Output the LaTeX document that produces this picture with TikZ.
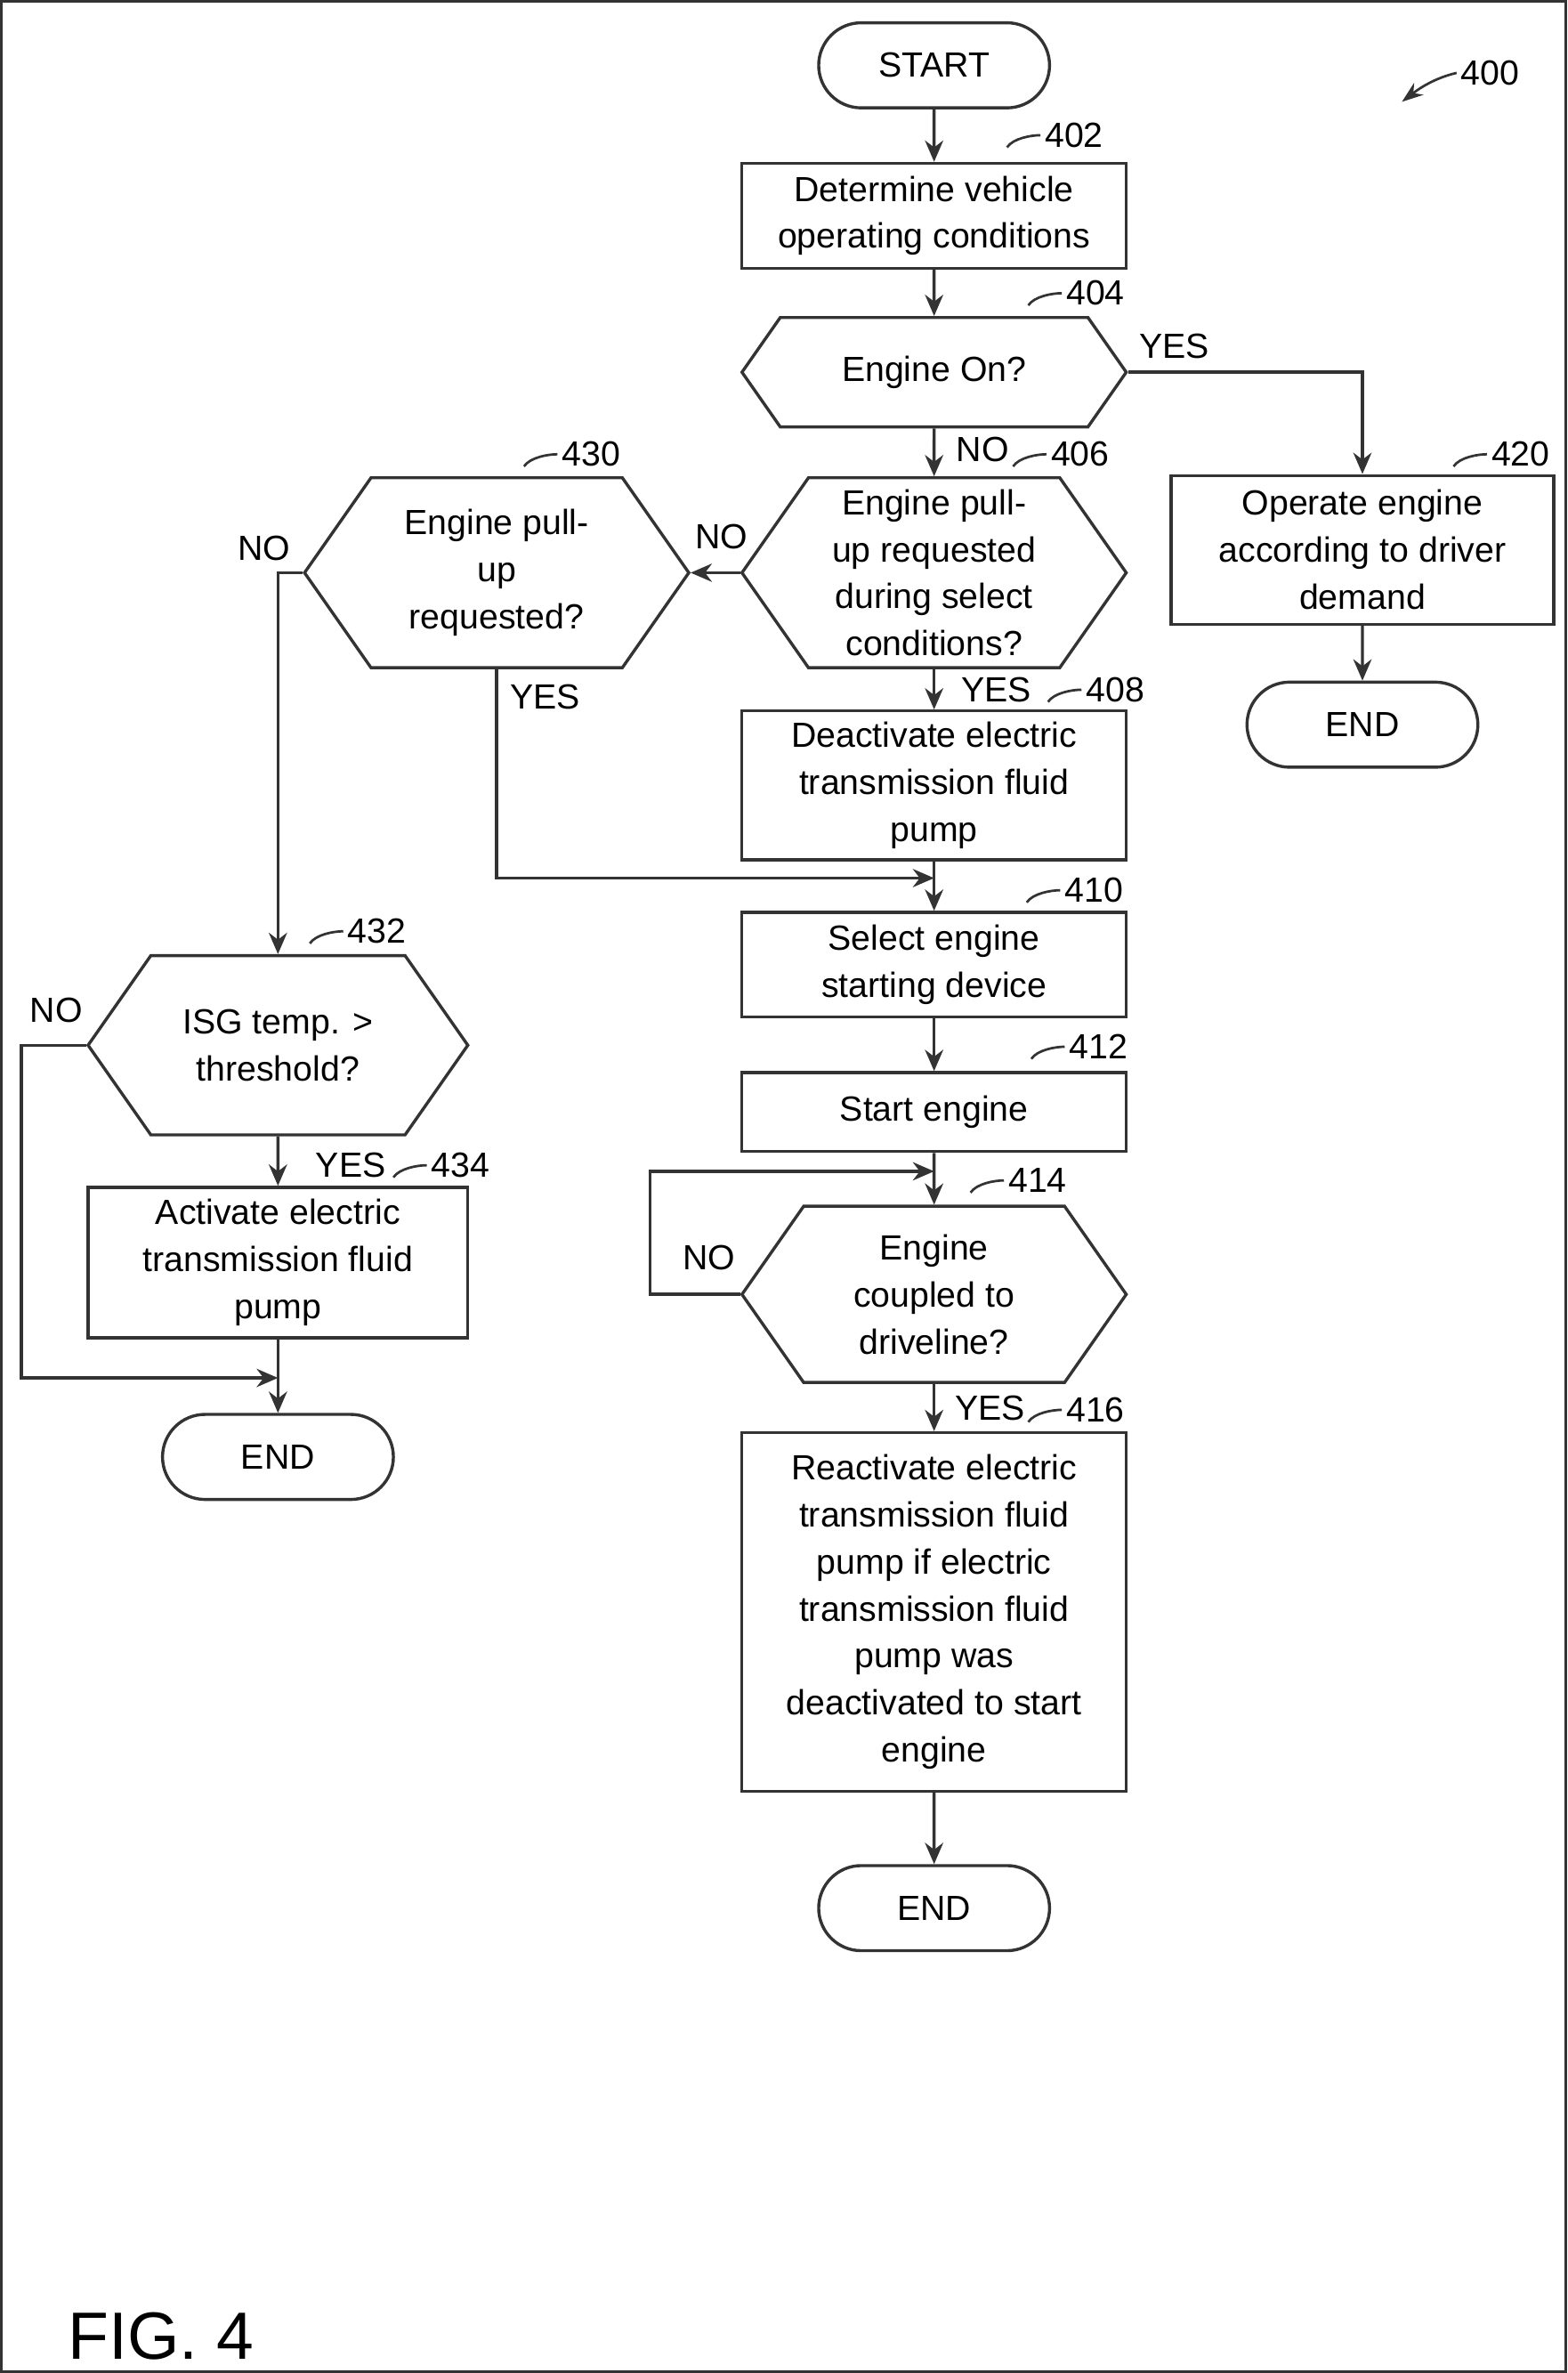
\documentclass[tikz,border=0pt]{standalone}
\usepackage{fontspec}
\setmainfont{Liberation Sans}
\usetikzlibrary{shapes.symbols,shapes.misc,arrows.meta}

\begin{document}
\begin{tikzpicture}[x=0.5pt,y=-0.5pt,
  font=\fontsize{11.5}{15.5}\selectfont,
  every path/.style={line width=1pt,draw=black!80},
  box/.style={draw,rectangle,align=center,inner sep=1pt,minimum width=126.5pt},
  term/.style={draw,rounded rectangle,minimum width=78pt,minimum height=28pt,inner sep=1pt},
  decision/.style={draw,signal,signal to=west and east,signal pointer angle=110,align=center,inner sep=1pt,minimum width=126.5pt},
  flow/.style={-{Stealth[length=7pt,width=6pt]}},
  tag/.style={inner sep=1pt,anchor=west},
  squig/.style={line width=0.8pt}]
\useasboundingbox (0,0) rectangle (1030,1560);

% Terminals and boxes
\node[term] (start) at (614,42) {START};
\node[box,minimum height=34.5pt] (b402) at (614,141) {Determine vehicle\\operating conditions};
\node[decision,minimum height=36pt] (d404) at (614,244) {Engine On?};
\node[box,minimum width=126pt,minimum height=49pt] (b420) at (896,361) {Operate engine\\according to driver\\demand};
\node[term] (end1) at (896,476) {END};
\node[decision,minimum height=62.5pt] (d406) at (614,376) {Engine pull-\\up requested\\during select\\conditions?};
\node[decision,minimum height=62.5pt] (d430) at (326,376) {Engine pull-\\up\\requested?};
\node[box,minimum height=49pt] (b408) at (614,516) {Deactivate electric\\transmission fluid\\pump};
\node[box,minimum height=34.5pt] (b410) at (614,634) {Select engine\\starting device};
\node[box,minimum height=26pt] (b412) at (614,731) {Start engine};
\node[decision,minimum height=58pt] (d414) at (614,851) {Engine\\coupled to\\driveline?};
\node[box,minimum height=118pt] (b416) at (614,1060) {Reactivate electric\\transmission fluid\\pump if electric\\transmission fluid\\pump was\\deactivated to start\\engine};
\node[term] (end2) at (614,1255) {END};
\node[decision,minimum width=125pt,minimum height=59pt] (d432) at (182,687) {ISG temp. >\\threshold?};
\node[box,minimum width=125pt,minimum height=49.5pt] (b434) at (182,830) {Activate electric\\transmission fluid\\pump};
\node[term] (end3) at (182,958) {END};

% Bend points
\coordinate (j430) at (326,577);
\coordinate (j410) at (614,577);
\coordinate (l414) at (427,851);
\coordinate (u414) at (427,770);
\coordinate (t414) at (614,770);
\coordinate (k430) at (182,376);
\coordinate (k432) at (13,687);
\coordinate (m432) at (13,906);
\coordinate (e3) at (182,906);

% Connectors
\draw[flow] (start) -- (b402);
\draw[flow] (b402) -- (d404);
\draw[flow] (d404.east) -| (b420.north);
\draw[flow] (b420) -- (end1);
\draw[flow] (d404) -- (d406);
\draw[flow] (d406.west) -- (d430.east);
\draw[flow] (d406) -- (b408);
\draw[flow] (b408) -- (b410);
\draw[flow] (d430.south) -- (j430) -- (j410);
\draw[flow] (b410) -- (b412);
\draw[flow] (b412) -- (d414);
\draw[flow] (d414.west) -- (l414) -- (u414) -- (t414);
\draw[flow] (d414) -- (b416);
\draw[flow] (b416) -- (end2);
\draw[flow] (d430.west) -- (k430) -- (d432.north);
\draw[flow] (d432) -- (b434);
\draw[flow] (b434) -- (end3);
\draw[flow] (d432.west) -- (k432) -- (m432) -- (e3);

% Branch labels
\node (y404) at (772,227) {YES};
\node (n406) at (646,295) {NO};
\node (n430) at (474,352) {NO};
\node (y408) at (655,453) {YES};
\node (y430) at (358,458) {YES};
\node (n432) at (173,360) {NO};
\node (n414) at (466,827) {NO};
\node (y416) at (651,926) {YES};
\node (n434) at (36,664) {NO};
\node (y434) at (230,766) {YES};

% Reference numerals
\node[tag] (r402) at (684,88) {402};
\node[tag] (r404) at (698,192) {404};
\node[tag] (r420) at (978,298) {420};
\node[tag] (r406) at (688,298) {406};
\node[tag] (r430) at (366,298) {430};
\node[tag] (r408) at (711,453) {408};
\node[tag] (r410) at (697,585) {410};
\node[tag] (r412) at (700,688) {412};
\node[tag] (r414) at (660,776) {414};
\node[tag] (r416) at (698,927) {416};
\node[tag] (r432) at (225,612) {432};
\node[tag] (r434) at (280,766) {434};
\node[tag] (r400) at (958,47) {400};
\foreach \r/\dx in {402/-22,404/-22,420/-22,406/-22,430/-22,408/-22,410/-22,412/-22,414/-22,416/-22,432/-22,434/-22}
  \draw[squig] (r\r.west) .. controls +(-6,0) and +(4,-6) .. +(\dx,8);
\draw[squig,{Stealth[length=7pt,width=5pt]}-] (922,66) .. controls (935,56) and (945,50) .. (r400.west);

\node[font=\fontsize{22}{26}\selectfont] (fig) at (105,1537) {FIG. 4};
\end{tikzpicture}
\end{document}
